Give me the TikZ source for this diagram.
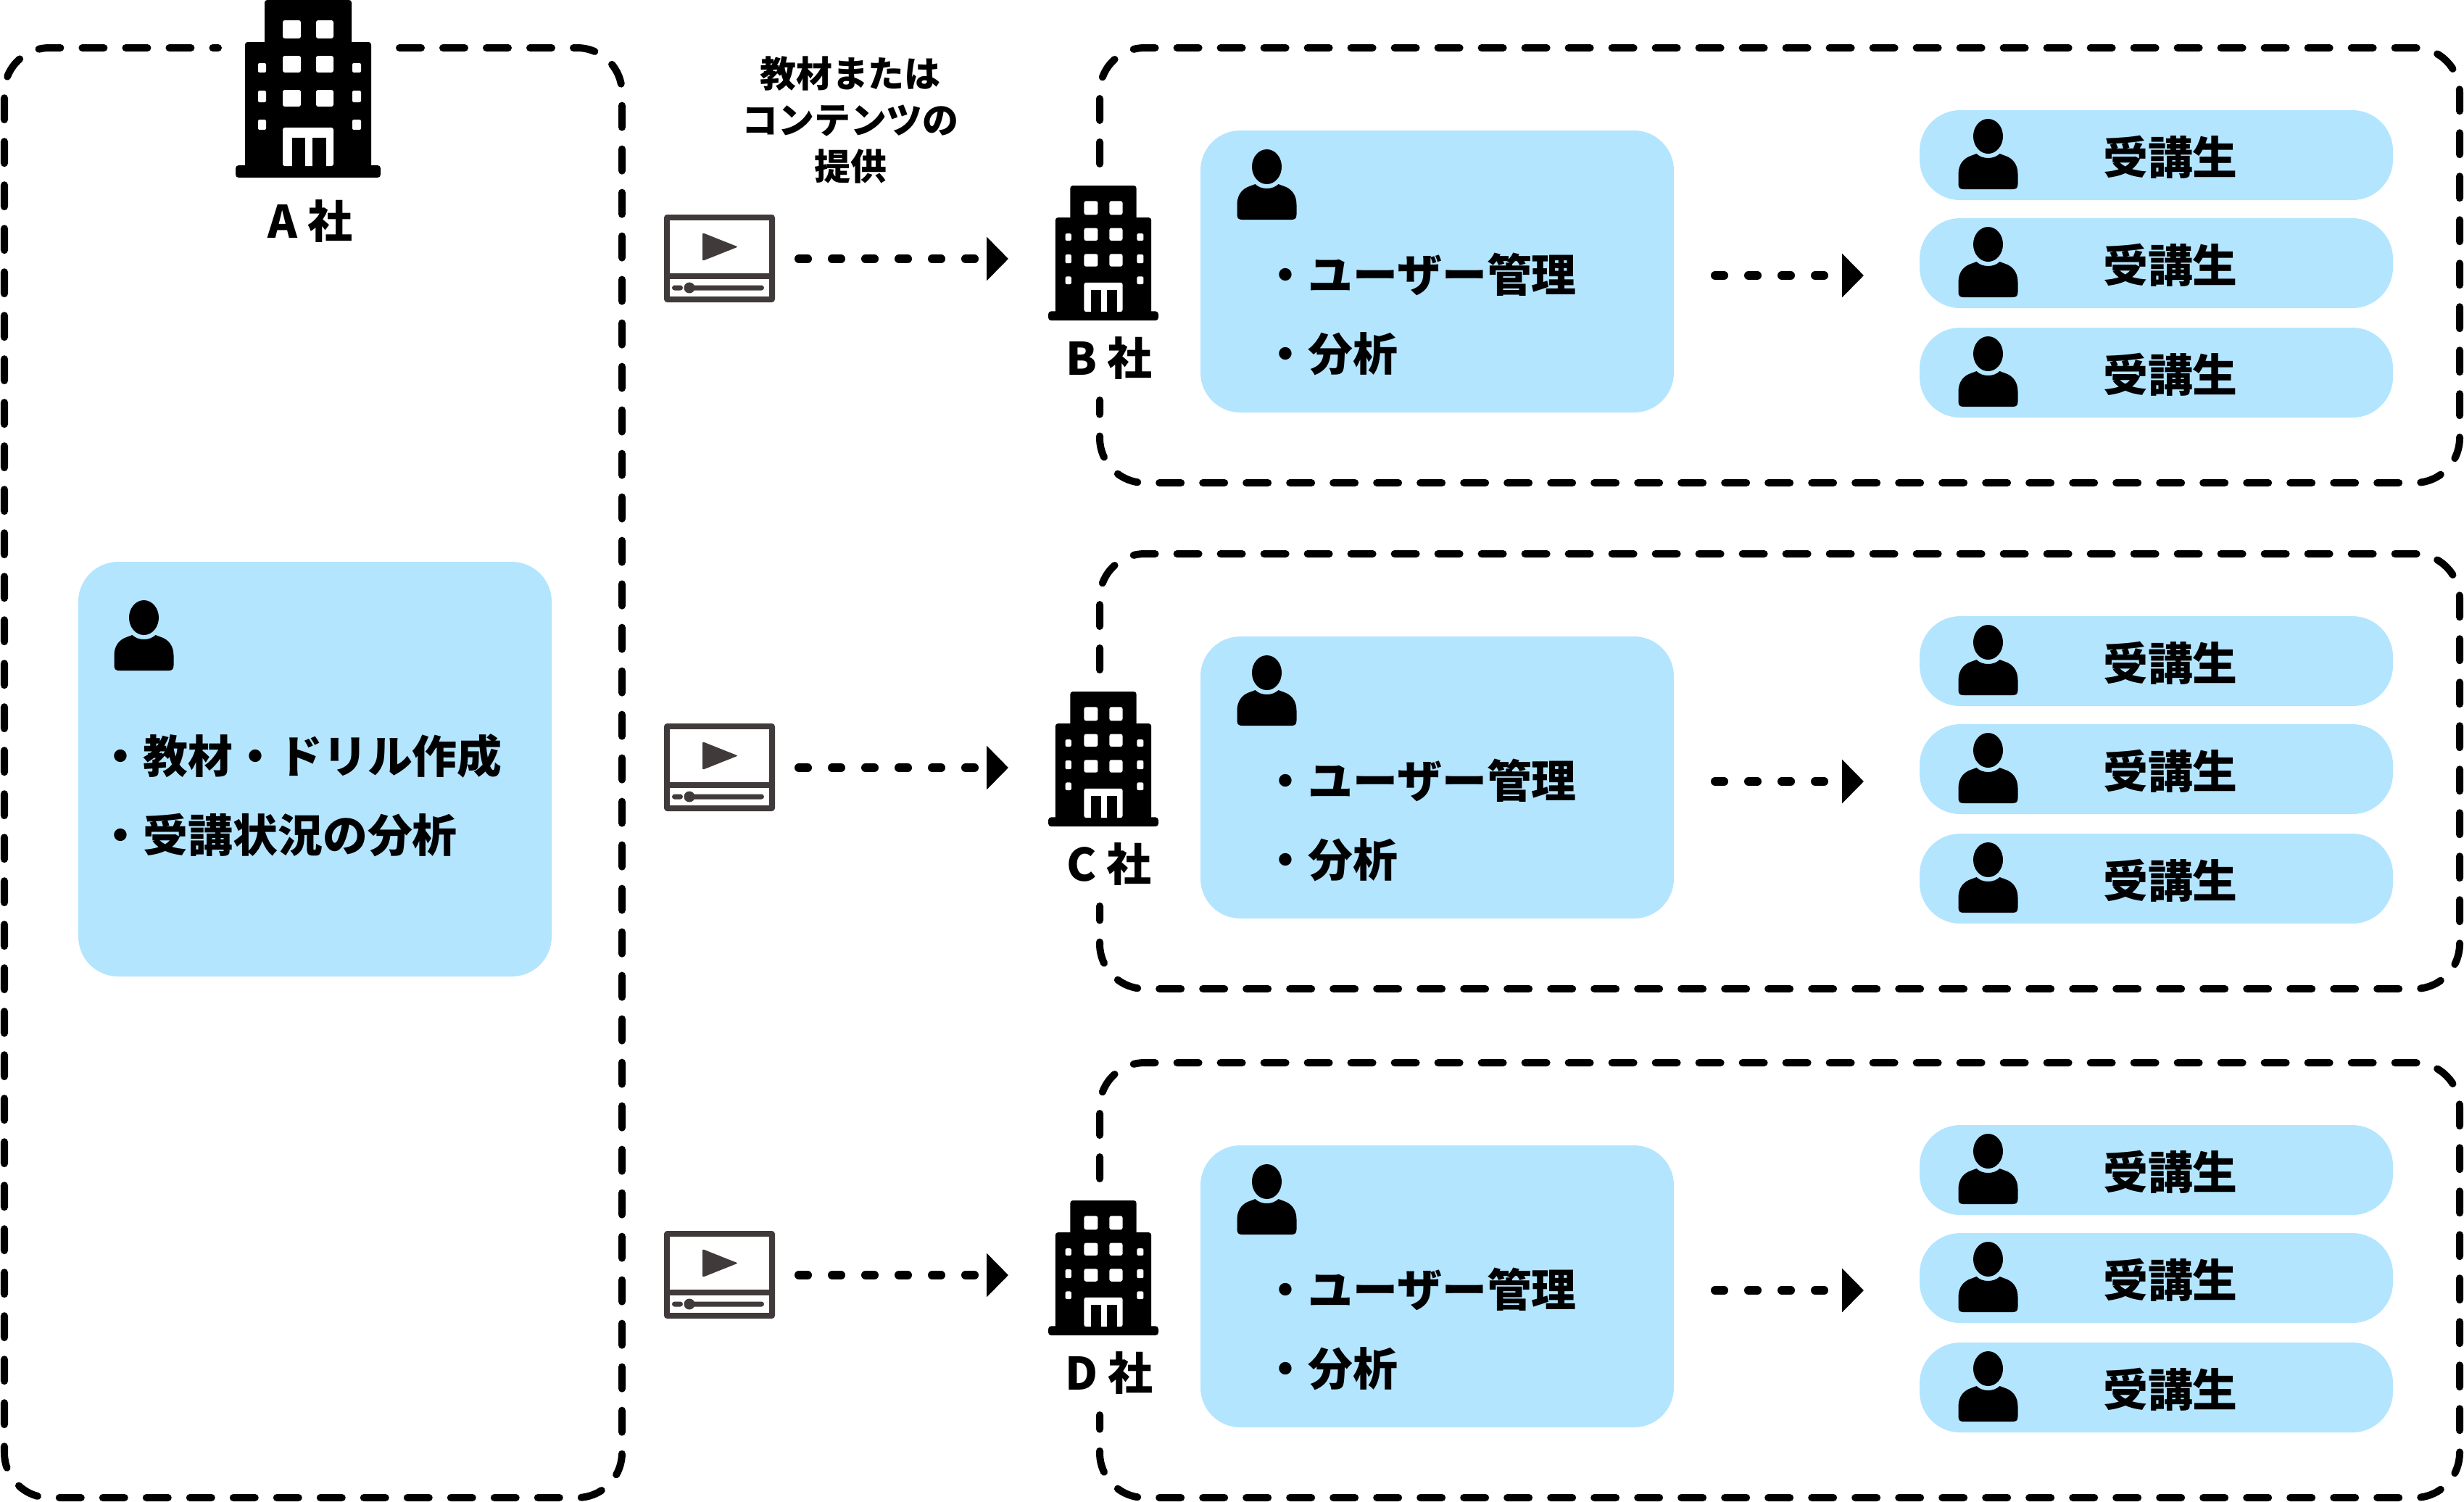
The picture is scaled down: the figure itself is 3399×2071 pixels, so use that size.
\documentclass[tikz,border=0pt]{standalone}
\usepackage{fontspec}
\setmainfont{Noto Sans CJK JP}
\usetikzlibrary{arrows.meta}
\definecolor{paleblue}{HTML}{B3E5FF}
\definecolor{icongray}{HTML}{403B3A}
\def\u{0.01cm}
\tikzset{
  dashbox/.style={line width=10*\u,line cap=round,dash pattern=on 30*\u off 30*\u,rounded corners=62*\u},
  dotarrow/.style={line width=12*\u,line cap=round,dash pattern=on 12*\u off 34*\u,
     -{Triangle[length=30*\u,width=59*\u]}},
  bluebox/.style={fill=paleblue,anchor=north west,inner sep=0,outer sep=0,rounded corners=55*\u,
     minimum width=653*\u},
  pillbox/.style={fill=paleblue,anchor=north west,inner sep=0,outer sep=0,rounded corners=56*\u,
     minimum width=653*\u,minimum height=124*\u},
  txt/.style={inner sep=0,font=\fontsize{17.6}{21}\selectfont\bfseries,text=black},
  smalltxt/.style={inner sep=0,align=center,font=\fontsize{14.2}{18.2}\selectfont\bfseries},
  pics/person/.style={code={
    \fill[black] (0,24) ellipse [x radius=20.5,y radius=24];
    \fill[black] (-41,90) -- (-41,76) .. controls (-41,62) and (-33,54) .. (-24,51) -- (-16,48)
      .. controls (-8,56) and (8,56) .. (16,48) -- (24,51) .. controls (33,54) and (41,62) .. (41,76)
      -- (41,90) .. controls (41,95) and (39,97) .. (34,97) -- (-34,97) .. controls (-39,97) and (-41,95) .. (-41,90) -- cycle;
  }},
  pics/bldg/.style={code={
    \fill[black,rounded corners=1pt] (-60,0) rectangle (60,70);
    \fill[black,rounded corners=1pt] (-87,58) rectangle (87,235);
    \fill[black,rounded corners=1.2pt] (-100,228) rectangle (100,245);
    \foreach \a/\b in {28/53,77/100,124/147}{
      \fill[white,rounded corners=.8pt] (-35,\a) rectangle (-10,\b);
      \fill[white,rounded corners=.8pt] (11,\a) rectangle (35,\b);}
    \foreach \a/\b in {87/100,125/141,165/179}{
      \fill[white,rounded corners=.6pt] (-69,\a) rectangle (-58,\b);
      \fill[white,rounded corners=.6pt] (61,\a) rectangle (73,\b);}
    \fill[white,rounded corners=.8pt] (-35,176) rectangle (35,229);
    \fill[black] (-22,190) rectangle (-4,231);
    \fill[black] (6,190) rectangle (25,231);
  }},
  pics/video/.style={code={
    \fill[icongray,rounded corners=1.2pt] (0,0) rectangle (153,121);
    \fill[white] (8,8) rectangle (145,81);
    \fill[white] (8,89) rectangle (145,113);
    \fill[icongray,rounded corners=.6pt] (53,25) -- (102,44.5) -- (53,64) -- cycle;
    \fill[icongray,rounded corners=1pt] (11,97.5) rectangle (26,104.5);
    \fill[icongray] (35,101) circle [radius=7.5];
    \fill[icongray,rounded corners=1pt] (35,97.5) rectangle (138,104.5);
  }},
}
\begin{document}
\begin{tikzpicture}[x=\u,y=-\u]
\useasboundingbox (0,0) rectangle (3399,2071);
% company A
\coordinate (Astart) at (551,66);
\coordinate (Aend) at (301,66);
\draw[dashbox] (Astart) -- (858,66) -- (858,2066) -- (6,2066) -- (6,66) -- (Aend);
\pic at (425,0) {bldg};
\node[txt,anchor=base] (labelA) at (428,328) {A 社};
\node[bluebox,minimum height=572*\u] (boxA) at (108,775) {};
\pic at (198.5,828) {person};
\node[txt,anchor=base west] (tA1) at (135,1066) {・教材・ドリル作成};
\node[txt,anchor=base west] (tA2) at (135,1175) {・受講状況の分析};
\node[smalltxt] (provide) at (1173,165) {教材または\\コンテンツの\\提供};
% companies B, C, D
\foreach \off/\vo/\n in {0/0/B,698/702/C,1400/1402/D}{
  \coordinate (start\n) at (1517,226+\off);
  \coordinate (end\n) at (1517,552+\off);
  \draw[dashbox] (start\n) -- (1517,66+\off) -- (3393,66+\off) -- (3393,666+\off) -- (1517,666+\off) -- (end\n);
  \pic at (916,296+\vo) {video};
  \coordinate (vs\n) at (1102,357+\vo);
  \coordinate (ve\n) at (1391,357+\vo);
  \draw[dotarrow] (vs\n) -- (ve\n);
  \pic[scale=.76] at (1522,256+\off) {bldg};
  \node[txt,anchor=base] (label\n) at (1530,517+\off) {\n\ 社};
  \node[bluebox,minimum height=389*\u] (box\n) at (1656,180+\off) {};
  \pic at (1747.5,206+\off) {person};
  \node[txt,anchor=base west] (t\n1) at (1742,402+\off) {・ユーザー管理};
  \node[txt,anchor=base west] (t\n2) at (1742,511+\off) {・分析};
  \coordinate (as\n) at (2366,380+\off);
  \coordinate (ae\n) at (2571,380+\off);
  \draw[dotarrow] (as\n) -- (ae\n);
  \foreach \y/\k in {152/1,301/2,452/3}{
    \node[pillbox] (pill\n\k) at (2648,\y+\off) {};
    \pic at (2742.5,\y+12+\off) {person};
    \node[txt,anchor=base] (ptxt\n\k) at (2994,\y+88+\off) {受講生};
  }
}
\end{tikzpicture}
\end{document}
